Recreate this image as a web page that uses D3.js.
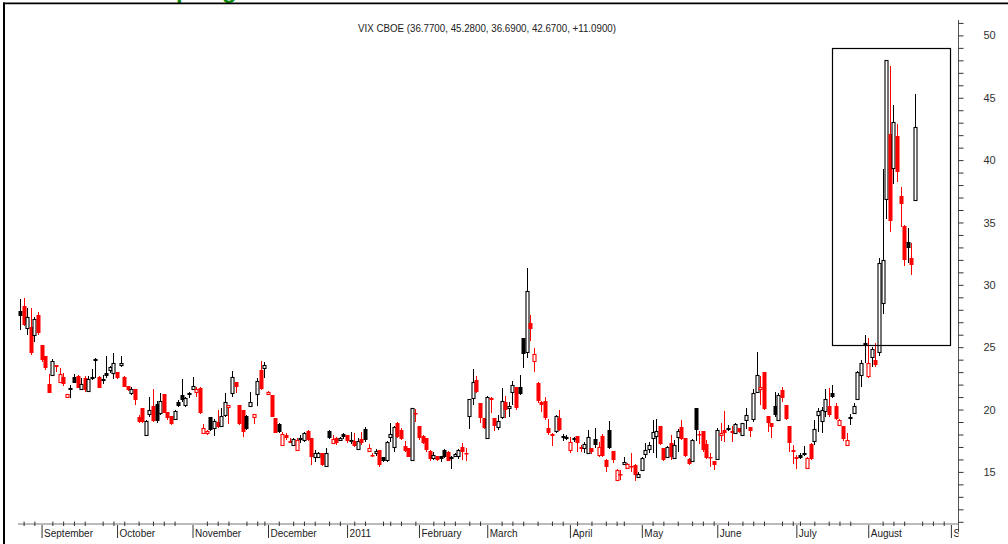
<!DOCTYPE html>
<html lang="en">
<head>
<meta charset="utf-8">
<title>VIX CBOE</title>
<script src="https://d3js.org/d3.v7.min.js"></script>
<style>
  body { margin: 0; background: #fff; }
  #chart text { font-family: "Liberation Sans", Arial, sans-serif; }
</style>
</head>
<body>
<div id="chart"></div>
<script>
"use strict"

// daily VIX candles, 24 Aug 2010 .. 18 Aug 2011
var opens = [
  27.93, 28.3, 26.51, 26.64, 25.97, 27.58, 25.17, 24.29, 22.02, 22.77,
  23.57, 22.23, 22.63, 21.03, 21.7, 22.58, 22.71, 21.67, 22.55, 21.51,
  22.6, 23.97, 22.63, 22.37, 22.95, 23.17, 22.9, 22.98, 23.57, 22.63,
  21.88, 21.35, 21.64, 19.43, 20.09, 17.95, 19.61, 20.28, 20.44, 19.75,
  21.24, 19.8, 19.48, 19.21, 20.63, 21.16, 20.36, 21.24, 21.67, 21.4,
  21.7, 18.09, 18.09, 19.37, 18.49, 19.02, 18.68, 19.56, 20.23, 21.3,
  22.18, 20.33, 19.96, 19.48, 20.28, 19.43, 21.22, 23.17, 23.3, 21.24,
  21.16, 19.29, 18.88, 17.16, 17.96, 17.5, 17.16, 16.76, 17.65, 17.56,
  18.3, 17.69, 16.22, 16.17, 16.49, 15.47, 18.3, 17.29, 17.69, 17.56,
  18.01, 17.96, 17.5, 17.5, 16.81, 17.61, 18.41, 16.65, 16.38, 16.49,
  16.76, 16.22, 15.95, 17.77, 17.02, 18.89, 18.36, 17.08, 16.89, 15.95,
  19.75, 18.68, 17.88, 17.69, 16.7, 16.09, 16.27, 16.27, 16.76, 16.62,
  16.1, 16.27, 16.3, 17.02, 16.55, 19.48, 20.9, 22.34, 20.5, 19.29,
  17.69, 20.9, 19.29, 18.6, 19.43, 20.58, 20.1, 21.38, 21.78, 21.83,
  25.71, 24.64, 26.9, 23.89, 22.15, 20.63, 20.68, 18.49, 18.0, 18.3,
  19.29, 17.83, 17.74, 16.75, 17.66, 17.88, 17.02, 16.94, 16.48, 16.88,
  17.63, 16.35, 17.85, 15.98, 18.35, 16.67, 14.34, 14.82, 15.63, 15.33,
  15.5, 15.55, 14.61, 15.15, 16.43, 16.8, 17.68, 17.9, 18.67, 16.88,
  16.21, 17.28, 16.08, 17.82, 18.57, 17.68, 16.0, 15.89, 20.09, 18.0,
  18.3, 17.23, 16.2, 15.89, 16.0, 17.95, 18.35, 18.45, 18.3, 18.14,
  18.49, 17.95, 19.15, 18.57, 19.28, 21.43, 21.61, 23.03, 19.48, 18.89,
  20.28, 19.2, 21.6, 20.36, 18.68, 16.78, 16.22, 16.35, 16.45, 15.29,
  17.24, 17.5, 19.56, 19.1, 19.91, 20.28, 21.3, 20.28, 18.76, 18.68,
  17.16, 19.35, 19.75, 20.82, 22.77, 25.3, 22.69, 24.24, 24.0, 24.58,
  28.51, 36.88, 42.07, 39.34, 41.96, 37.15, 34.74, 33.41, 32.12, 36.77
];
var highs = [
  28.83, 28.91, 28.11, 28.11, 27.44, 27.85, 25.2, 24.3, 22.82, 24.02,
  23.6, 23.3, 22.95, 21.25, 21.97, 22.82, 22.77, 22.5, 22.71, 22.69,
  23.22, 24.1, 22.69, 22.77, 24.29, 23.49, 24.56, 23.03, 24.29, 22.65,
  21.9, 21.83, 21.65, 19.56, 20.1, 19.16, 21.03, 21.62, 20.71, 21.3,
  21.25, 19.8, 19.5, 20.0, 20.76, 22.42, 21.03, 21.43, 22.58, 21.78,
  21.78, 18.84, 18.36, 19.43, 19.21, 19.96, 20.09, 21.3, 20.36, 23.11,
  22.2, 20.35, 19.97, 19.56, 21.43, 19.62, 22.5, 23.89, 23.84, 21.45,
  21.17, 19.3, 18.95, 18.22, 18.09, 17.69, 17.69, 17.69, 17.96, 18.22,
  18.36, 17.7, 16.76, 16.6, 16.5, 16.89, 18.36, 17.96, 17.82, 17.8,
  18.1, 17.97, 18.22, 18.09, 17.69, 18.22, 18.57, 17.24, 16.49, 16.81,
  16.77, 16.23, 17.5, 18.89, 18.68, 19.03, 18.49, 17.5, 16.94, 20.15,
  20.02, 18.69, 17.96, 17.7, 16.76, 16.62, 16.28, 16.3, 16.81, 16.65,
  16.27, 16.5, 16.83, 17.29, 16.94, 20.84, 23.22, 22.71, 20.51, 19.3,
  21.11, 21.03, 19.3, 19.56, 21.75, 21.11, 20.63, 22.29, 21.8, 22.77,
  25.72, 31.32, 27.58, 24.9, 22.23, 20.65, 21.03, 19.24, 18.09, 19.56,
  19.96, 18.0, 17.96, 17.82, 17.82, 17.9, 17.15, 17.42, 18.36, 16.95,
  18.54, 17.42, 18.0, 16.0, 19.1, 16.68, 15.2, 15.15, 16.16, 15.68,
  16.48, 15.63, 15.01, 16.16, 17.34, 17.42, 19.15, 19.28, 18.7, 16.9,
  17.07, 17.95, 17.55, 18.41, 19.15, 17.69, 16.08, 17.6, 20.1, 18.3,
  18.31, 17.55, 16.48, 15.9, 18.49, 18.89, 19.9, 18.75, 18.67, 18.89,
  18.5, 18.94, 20.09, 18.58, 21.61, 24.64, 22.68, 23.04, 19.5, 18.9,
  21.43, 21.3, 21.8, 20.37, 18.69, 17.15, 16.35, 16.54, 17.08, 16.17,
  17.29, 19.16, 20.1, 20.18, 21.62, 21.7, 21.97, 20.5, 19.21, 18.69,
  18.09, 19.64, 20.5, 23.12, 23.97, 25.98, 25.71, 25.04, 25.3, 32.12,
  39.29, 48.03, 47.57, 44.42, 42.87, 37.87, 34.8, 34.58, 33.33, 45.28
];
var lows = [
  26.4, 26.7, 25.97, 24.4, 25.44, 25.97, 23.84, 23.17, 21.3, 22.69,
  23.03, 22.2, 21.88, 20.9, 20.9, 22.1, 21.7, 21.56, 21.43, 21.43,
  22.37, 22.5, 21.7, 22.04, 22.5, 22.9, 22.45, 22.45, 23.38, 21.78,
  21.48, 21.16, 20.36, 18.89, 18.89, 17.9, 19.43, 19.02, 18.94, 19.56,
  19.69, 19.16, 18.76, 19.16, 20.17, 20.63, 20.23, 20.9, 21.67, 20.98,
  19.64, 18.09, 17.95, 18.3, 17.87, 18.49, 18.62, 19.43, 18.84, 20.98,
  21.3, 18.76, 17.82, 18.36, 20.28, 18.81, 20.28, 21.56, 22.5, 21.16,
  19.37, 18.09, 18.08, 17.1, 17.56, 17.29, 17.08, 16.76, 17.29, 17.42,
  17.5, 15.55, 15.82, 16.1, 15.5, 15.42, 17.61, 17.29, 17.16, 17.5,
  17.6, 17.29, 17.24, 17.02, 16.76, 17.16, 17.42, 16.65, 16.22, 16.27,
  15.37, 15.82, 15.82, 17.42, 16.62, 17.69, 17.56, 16.62, 16.17, 15.9,
  19.03, 17.56, 17.24, 16.62, 15.9, 15.95, 15.9, 15.82, 16.09, 15.85,
  15.2, 16.2, 16.03, 15.95, 15.87, 18.44, 20.36, 21.3, 18.89, 18.44,
  17.69, 19.7, 18.28, 18.36, 19.24, 19.29, 19.43, 20.36, 19.96, 21.16,
  23.3, 24.1, 25.5, 23.03, 20.5, 19.83, 19.16, 17.96, 17.1, 18.09,
  18.28, 17.47, 17.53, 16.48, 17.42, 16.62, 16.62, 16.48, 16.43, 16.4,
  16.88, 16.22, 16.22, 15.01, 16.8, 15.68, 14.34, 14.34, 15.63, 15.28,
  15.01, 14.29, 14.56, 15.09, 16.08, 16.54, 16.48, 16.08, 17.15, 15.9,
  16.16, 15.95, 16.05, 16.62, 17.55, 16.16, 15.55, 15.81, 17.5, 17.2,
  16.62, 16.0, 15.36, 15.15, 16.0, 17.5, 17.42, 18.3, 17.42, 18.09,
  18.09, 17.87, 18.41, 17.82, 19.02, 21.3, 20.36, 19.96, 18.22, 17.68,
  19.42, 19.15, 20.6, 19.15, 16.62, 15.63, 15.2, 16.0, 16.27, 15.29,
  15.95, 17.16, 18.23, 18.14, 19.43, 19.43, 20.9, 19.16, 18.68, 17.5,
  17.16, 18.76, 19.7, 20.77, 21.83, 23.76, 22.5, 23.44, 23.4, 24.32,
  27.63, 35.28, 34.26, 38.06, 38.22, 34.66, 31.53, 31.72, 30.79, 36.69
];
var closes = [
  27.5, 26.78, 27.39, 24.5, 27.23, 26.11, 23.97, 23.3, 21.35, 23.89,
  23.38, 22.82, 22.05, 21.22, 21.72, 22.15, 21.75, 22.04, 21.56, 22.42,
  22.63, 24.02, 21.75, 22.47, 22.71, 23.38, 23.7, 22.5, 23.7, 21.83,
  21.56, 21.64, 20.76, 19.02, 18.98, 19.1, 19.96, 19.08, 19.12, 20.71,
  19.75, 19.35, 18.84, 19.88, 20.28, 20.76, 20.9, 21.35, 21.88, 21.62,
  19.69, 18.49, 18.3, 18.36, 19.1, 18.57, 19.48, 20.63, 20.36, 22.63,
  21.83, 18.84, 18.22, 18.41, 20.63, 19.61, 22.29, 21.62, 23.57, 21.43,
  19.43, 18.14, 18.16, 18.04, 17.69, 17.34, 17.61, 17.56, 17.7, 18.14,
  17.56, 16.17, 16.49, 16.54, 15.55, 16.54, 17.69, 17.61, 17.34, 17.74,
  17.76, 17.5, 17.55, 17.08, 17.5, 17.34, 17.56, 16.94, 16.33, 16.7,
  15.55, 15.9, 17.42, 18.04, 18.57, 17.82, 17.61, 16.7, 16.17, 20.1,
  19.65, 17.69, 17.34, 16.76, 16.0, 16.35, 15.95, 16.0, 16.17, 15.9,
  16.17, 16.43, 16.73, 16.62, 16.5, 20.84, 22.18, 21.43, 19.29, 18.49,
  21.03, 20.8, 18.7, 19.1, 20.71, 19.96, 20.28, 21.96, 20.15, 21.22,
  24.42, 29.5, 26.46, 24.42, 20.68, 20.36, 19.29, 18.09, 17.9, 19.51,
  18.36, 17.86, 17.77, 17.42, 17.69, 17.34, 16.8, 17.2, 17.82, 16.62,
  17.15, 17.02, 16.3, 15.41, 16.88, 15.95, 15.15, 14.8, 15.81, 15.63,
  15.47, 14.74, 14.8, 16.08, 16.75, 17.15, 18.22, 18.3, 17.23, 15.95,
  17.02, 16.21, 17.15, 18.3, 17.6, 16.27, 15.63, 17.55, 18.35, 17.98,
  16.75, 16.08, 16.16, 15.55, 18.35, 18.14, 18.09, 18.49, 18.14, 18.83,
  18.22, 18.89, 19.56, 18.3, 21.35, 22.76, 21.83, 20.01, 18.89, 18.57,
  19.56, 21.16, 20.9, 19.21, 17.34, 16.6, 16.0, 16.08, 16.49, 16.09,
  16.0, 18.41, 19.91, 19.93, 20.82, 19.56, 20.98, 19.21, 19.16, 17.61,
  17.58, 19.4, 20.28, 23.04, 23.76, 25.36, 23.7, 24.83, 23.6, 31.72,
  31.99, 48.03, 35.12, 43.03, 39.07, 36.45, 31.99, 32.93, 31.59, 42.67
];
// u = closed above the previous close (black), d = below (red)
var trend = [
  "udududdddu", "dddduududu", "uuduuuudud", "duddduuduu", "ddduuuuuud",
  "ddduuduudu", "ddduududud", "dduddduduu", "dduuduuddu", "ududududdu",
  "duuuuddddu", "ddddduduud", "uuudduuddd", "udduuduudu", "uudddddddu",
  "duududduud", "udddudddud", "dduuuuuudd", "uduuddduud", "dddduddudu",
  "duuduudddd", "uuddddduud", "duuuududdd", "duuuuududu", "uududddudu"
].join("");

var firstDay = "2010-08-24", axisEnd = "2011-09-01";
var holidays = ["2010-09-06", "2010-11-25", "2010-12-24", "2011-01-17",
                "2011-02-21", "2011-04-22", "2011-05-30", "2011-07-04"];
var yLabels = [15, 20, 25, 30, 35, 40, 45, 50];
var title = "VIX CBOE (36.7700, 45.2800, 36.6900, 42.6700, +11.0900)";

// trading calendar
var hol = new Set(holidays);
var days = [];
var end = new Date(axisEnd + "T00:00:00Z");
for (var d = new Date(firstDay + "T00:00:00Z"); d <= end; d = new Date(d.getTime() + 864e5)) {
  var wd = d.getUTCDay();
  if (wd === 0 || wd === 6) continue;
  if (hol.has(d.toISOString().slice(0, 10))) continue;
  days.push(d);
}

var monthIdx = [], minorIdx = [];
days.forEach(function(d, i) {
  if (i === 0) return;
  var p = days[i - 1];
  if (d.getUTCMonth() !== p.getUTCMonth()) monthIdx.push(i);
  else if (Math.floor(d.getUTCDate() / 5) > Math.floor(p.getUTCDate() / 5)) minorIdx.push(i);
});
var fmtMonth = d3.utcFormat("%B"), fmtYear = d3.utcFormat("%Y");
var monthLabel = function(i) {
  return days[i].getUTCMonth() === 0 ? fmtYear(days[i]) : fmtMonth(days[i]);
};

var candles = opens.map(function(o, i) {
  return {i: i, o: o, h: highs[i], l: lows[i], c: closes[i], up: trend[i] === "u"};
});

var W = 1008, H = 544;
var x = d3.scaleLinear().domain([0, days.length - 1]).range([20, 950.9]);
var y = d3.scaleLinear().domain([15, 50]).range([471.9, 35.4]);
var axisX = 958.5, axisY = 524;

var svg = d3.select("#chart").append("svg")
    .attr("width", W).attr("height", H);

svg.append("clipPath").attr("id", "plotclip")
  .append("rect").attr("x", 0).attr("y", 0).attr("width", axisX).attr("height", H);

// cut-off green heading at the very top
svg.append("text").attr("x", 176).attr("y", -2.5).text("p")
  .style("font-size", "24px").style("font-weight", "bold").attr("fill", "#0d8a0d");
svg.append("text").attr("x", 222).attr("y", -2.5).text("g")
  .style("font-size", "24px").style("font-weight", "bold").attr("fill", "#0d8a0d");

// frame
svg.append("line").attr("x1", 3).attr("x2", W).attr("y1", 3.3).attr("y2", 3.3)
  .attr("stroke", "#000").attr("stroke-width", 1.8);
svg.append("line").attr("x1", 4).attr("x2", 4).attr("y1", 2.4).attr("y2", H)
  .attr("stroke", "#000").attr("stroke-width", 2);

// title
svg.append("text").attr("x", 487).attr("y", 32).attr("text-anchor", "middle")
  .attr("textLength", 258).attr("lengthAdjust", "spacingAndGlyphs")
  .style("font-size", "10px").attr("fill", "#222").text(title);

// y axis (right)
svg.append("line").attr("x1", axisX).attr("x2", axisX).attr("y1", 20).attr("y2", 532)
  .attr("stroke", "#555");
var yAxis = svg.append("g").attr("transform", "translate(" + axisX + ",0)")
  .call(d3.axisRight(y).tickValues(d3.range(11, 52)).tickSize(5).tickPadding(20)
    .tickFormat(function(v) { return yLabels.indexOf(v) >= 0 ? v : ""; }));
yAxis.select(".domain").remove();
yAxis.selectAll(".tick line").attr("stroke", "#333");
yAxis.selectAll(".tick text").attr("fill", "#333")
  .style("font-size", "11px").style("font-family", "Liberation Sans, Arial, sans-serif");

// x axis (bottom)
var xg = svg.append("g").attr("clip-path", "url(#plotclip)");
xg.append("line").attr("x1", 18).attr("x2", axisX).attr("y1", axisY).attr("y2", axisY)
  .attr("stroke", "#777");
var minorAxis = xg.append("g").attr("transform", "translate(0," + (axisY - 2.5) + ")")
  .call(d3.axisBottom(x).tickValues(minorIdx).tickSize(4.5).tickFormat(""));
minorAxis.select(".domain").remove();
minorAxis.selectAll(".tick line").attr("stroke", "#333");
var monthAxis = xg.append("g").attr("transform", "translate(0," + (axisY + 1) + ")")
  .call(d3.axisBottom(x).tickValues(monthIdx).tickSize(13).tickFormat(monthLabel));
monthAxis.select(".domain").remove();
monthAxis.selectAll(".tick line").attr("stroke", "#333");
monthAxis.selectAll(".tick text")
  .attr("x", 2).attr("y", 4.5).attr("text-anchor", "start").attr("fill", "#222")
  .style("font-size", "10px").style("font-family", "Liberation Sans, Arial, sans-serif");

// candles, snapped to whole pixels like the original renderer
var colour = function(d) { return d.up ? "#000" : "#f00"; };
var px = function(d) { return Math.round(x(d.i)); };
var g = svg.append("g");
var bodyTop = function(d) { return Math.round(y(Math.max(d.o, d.c))); };
var bodyBot = function(d) { return Math.round(y(Math.min(d.o, d.c))); };
var filled = function(d) { return d.c < d.o; };

g.selectAll("line.hi").data(candles).join("line").attr("class", "hi")
  .attr("x1", function(d) { return px(d) + 0.5; }).attr("x2", function(d) { return px(d) + 0.5; })
  .attr("y1", function(d) { return Math.round(y(d.h)); }).attr("y2", bodyTop)
  .attr("stroke", colour).attr("stroke-width", 1);
g.selectAll("line.lo").data(candles).join("line").attr("class", "lo")
  .attr("x1", function(d) { return px(d) + 0.5; }).attr("x2", function(d) { return px(d) + 0.5; })
  .attr("y1", bodyBot).attr("y2", function(d) { return Math.round(y(d.l)); })
  .attr("stroke", colour).attr("stroke-width", 1);

// filled: close below open, hollow: close above open
g.selectAll("rect.body").data(candles).join("rect").attr("class", "body")
  .attr("x", function(d) { return filled(d) ? px(d) - 1.5 : px(d) - 1; })
  .attr("width", function(d) { return filled(d) ? 4 : 3; })
  .attr("y", function(d) { return filled(d) ? bodyTop(d) : bodyTop(d) + 0.5; })
  .attr("height", function(d) { return Math.max(filled(d) ? 1.5 : 1, bodyBot(d) - bodyTop(d)); })
  .attr("fill", function(d) { return filled(d) ? colour(d) : "#fff"; })
  .attr("stroke", function(d) { return filled(d) ? "none" : colour(d); })
  .attr("stroke-width", 1.1);

// highlight box round the August spike
svg.append("rect").attr("x", 832.5).attr("y", 48.5).attr("width", 118).attr("height", 297)
  .attr("fill", "none").attr("stroke", "#000").attr("stroke-width", 1.2);
</script>
</body>
</html>
